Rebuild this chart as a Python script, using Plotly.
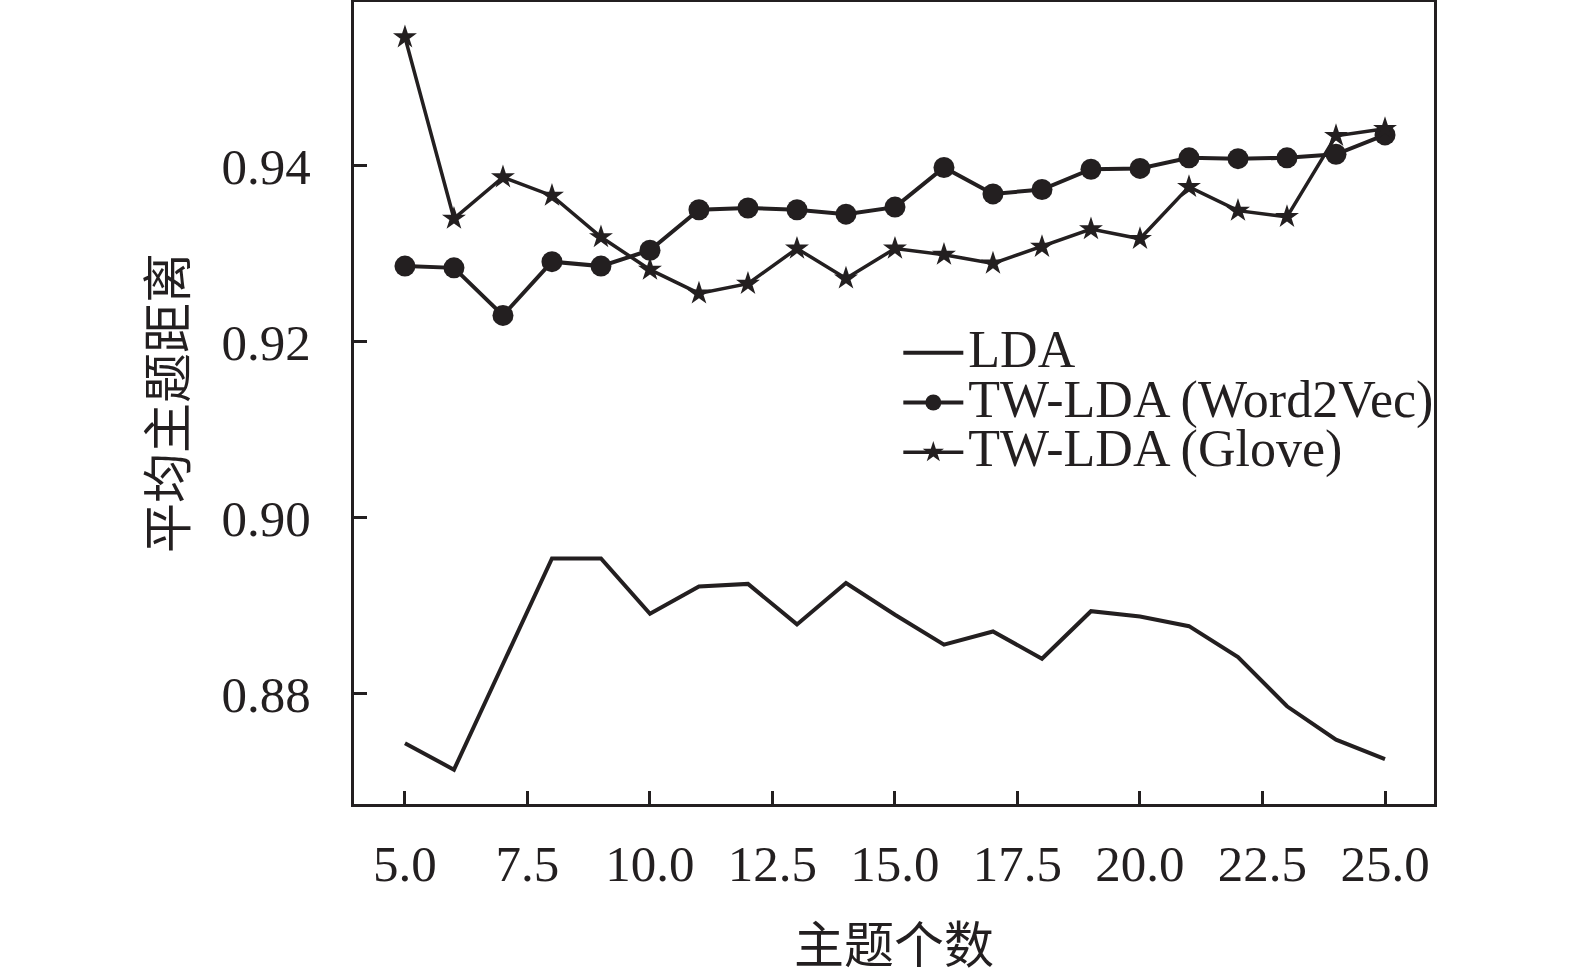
import plotly.graph_objects as go

# 主题个数
topics = list(range(5, 26))

# 平均主题距离
lda = [0.8744, 0.8714, 0.8834, 0.8954, 0.8954, 0.8891, 0.8922, 0.8925, 0.8879,
       0.8926, 0.8890, 0.8856, 0.8871, 0.8840, 0.8894, 0.8888, 0.8877, 0.8842,
       0.8786, 0.8748, 0.8726]
tw_word2vec = [0.9286, 0.9284, 0.9230, 0.9291, 0.9286, 0.9304, 0.9350, 0.9352,
               0.9350, 0.9345, 0.9353, 0.9398, 0.9368, 0.9373, 0.9396, 0.9397,
               0.9409, 0.9408, 0.9409, 0.9413, 0.9435]
tw_glove = [0.9546, 0.9340, 0.9387, 0.9366, 0.9319, 0.9282, 0.9255, 0.9266,
            0.9306, 0.9272, 0.9306, 0.9299, 0.9289, 0.9308, 0.9328, 0.9317,
            0.9376, 0.9349, 0.9342, 0.9434, 0.9442]

names = ["LDA", "TW-LDA (Word2Vec)", "TW-LDA (Glove)"]

ink = "#231f20"
serif = "Liberation Serif, Times New Roman, serif"
cjk = "Noto Sans CJK SC"


def label(s):
    # 图例文字放大，行距保持紧凑
    return '<span style="font-size:52px">' + s + '</span>'


fig = go.Figure()
fig.add_trace(go.Scatter(x=topics, y=lda, name=label(names[0]), mode="lines",
                         line=dict(color=ink, width=4)))
fig.add_trace(go.Scatter(x=topics, y=tw_word2vec, name=label(names[1]),
                         mode="lines+markers",
                         line=dict(color=ink, width=4),
                         marker=dict(symbol="circle", size=21, color=ink)))
fig.add_trace(go.Scatter(x=topics, y=tw_glove, name=label(names[2]),
                         mode="lines+markers",
                         line=dict(color=ink, width=3.5),
                         marker=dict(symbol="star", size=18, color=ink)))

fig.update_layout(
    width=1575, height=969,
    margin=dict(l=354, r=141, t=2, b=165),
    paper_bgcolor="white", plot_bgcolor="white",
    font=dict(family=serif, size=51, color=ink),
    showlegend=True,
    legend=dict(x=0.504, y=0.60, xanchor="left", yanchor="top",
                bgcolor="rgba(0,0,0,0)", font=dict(size=36, family=serif),
                itemwidth=60, tracegroupgap=0),
)

# x 轴标题用注释放在坐标区下方
fig.add_annotation(text="主题个数", xref="paper", yref="paper", x=0.5, y=-0.171,
                   xanchor="center", yanchor="middle", showarrow=False,
                   font=dict(size=50, family=cjk, color=ink))

fig.update_xaxes(
    range=[3.96, 26.0], tick0=5, dtick=2.5, tickformat=".1f",
    showline=True, linewidth=3, linecolor=ink, mirror=True,
    ticks="inside", ticklen=13, tickwidth=2.5, tickcolor=ink,
    showgrid=False, zeroline=False, ticklabelstandoff=13, automargin=False,
    tickfont=dict(size=51, family=serif),
)
fig.update_yaxes(
    range=[0.8675, 0.9586], tickvals=[0.88, 0.90, 0.92, 0.94], tickformat=".2f",
    showline=True, linewidth=3, linecolor=ink, mirror=True,
    ticks="inside", ticklen=13, tickwidth=2.5, tickcolor=ink,
    showgrid=False, zeroline=False, ticklabelstandoff=30, automargin=False,
    tickfont=dict(size=51, family=serif),
    title=dict(text="平均主题距离", font=dict(size=50, family=cjk), standoff=20),
)

fig.write_html("out.html", config={"displayModeBar": False},
               post_script="document.body.style.margin='0';")
